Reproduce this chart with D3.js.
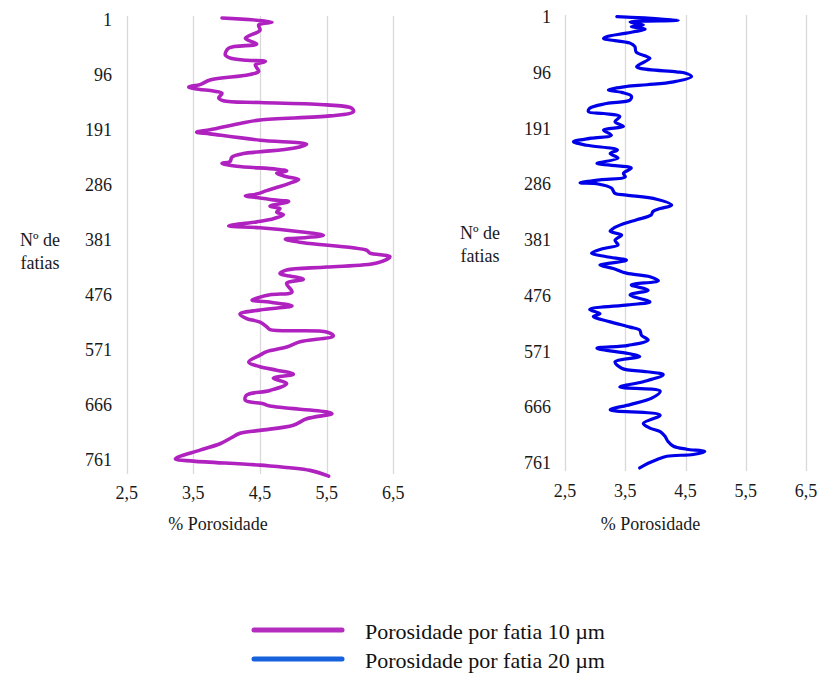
<!DOCTYPE html>
<html><head><meta charset="utf-8">
<script src="https://cdn.jsdelivr.net/npm/d3@7"></script>
</head><body style="margin:0">
<svg id="c" width="821" height="677" font-family="Liberation Serif" style="display:block;background:#fff"></svg>
<script>
// ---- data ----
const sliceTicks = [1, 96, 191, 286, 381, 476, 571, 666, 761];
const porTicks = [2.5, 3.5, 4.5, 5.5, 6.5];
const seriesNames = ["Porosidade por fatia 10 µm", "Porosidade por fatia 20 µm"];
const slices10 = [1,8,13,22,36,46,53,65,70,74,76,82,93,99,108,116,120,124,127,131,139,144,147,151,157,163,170,177,183,194,198,201,212,219,226,232,235,241,249,252,257,262,265,269,275,280,286,292,299,305,308,311,315,318,326,330,336,341,349,353,360,363,370,376,380,383,389,402,407,413,424,431,436,442,452,459,474,479,488,491,498,505,512,520,526,534,539,543,550,560,569,577,583,595,603,609,616,623,632,644,652,661,667,671,681,684,693,704,713,718,727,736,747,762,766,773,782,792];
const poro10 = [3.93,4.68,4.48,4.5,4.28,4.45,4.03,3.98,4.05,4.3,4.58,4.43,4.48,4.33,3.75,3.6,3.43,3.58,3.8,3.93,3.88,3.95,4.5,5.5,5.88,5.9,5.55,4.5,4.2,3.75,3.55,3.75,4.5,5.2,5.0,4.5,4.25,4.08,4.05,3.93,4.15,4.75,4.9,4.75,4.9,5.08,4.95,4.8,4.6,4.45,4.28,4.45,4.7,4.93,4.65,4.8,4.75,4.85,4.65,4.45,4.03,4.5,5.1,5.45,5.2,4.88,5.15,6.1,6.15,6.45,6.25,5.5,4.9,4.8,5.15,4.9,4.98,4.65,4.38,4.6,4.98,4.5,4.2,4.3,4.5,4.6,4.65,5.5,5.6,5.1,4.9,4.6,4.5,4.33,4.5,4.75,5.0,4.7,4.9,4.65,4.3,4.28,4.55,4.65,5.5,5.58,5.2,5.0,4.5,4.2,4.05,3.9,3.6,3.23,3.5,4.5,5.25,5.53];
const slices20 = [1,7,10,15,18,22,29,35,38,46,52,61,69,72,86,89,95,97,103,112,117,120,126,130,136,143,149,157,163,166,171,180,188,194,203,208,214,220,228,234,242,251,254,259,268,274,279,284,286,293,302,305,312,322,328,333,339,347,354,362,367,373,382,390,396,404,410,416,421,424,430,438,444,451,458,467,475,487,492,500,507,512,521,530,535,544,552,561,566,575,580,589,600,606,611,623,632,639,651,662,671,680,694,702,708,716,725,733,738,742,747,750,756,762,770];
const poro20 = [3.36,4.38,3.58,3.8,3.6,3.83,3.52,3.19,3.14,3.58,3.66,3.68,3.86,3.91,3.69,3.75,4.35,4.49,4.6,4.3,3.86,3.52,3.22,3.44,3.6,3.58,3.19,2.91,2.89,3.14,3.41,3.33,3.47,3.14,3.27,2.94,2.64,2.86,3.37,3.25,3.38,3.03,3.25,3.6,3.47,3.5,3.08,2.75,3.05,3.27,3.33,3.52,4.02,4.27,4.08,3.96,3.93,3.69,3.47,3.3,3.25,3.44,3.33,3.38,3.14,2.94,3.19,3.52,3.25,3.08,3.3,3.52,3.91,4.05,3.6,3.88,3.58,3.91,3.55,2.91,3.08,2.97,3.25,3.58,3.74,3.77,3.88,3.55,3.03,3.55,3.74,3.33,3.44,3.86,4.13,3.8,3.41,4.08,3.94,3.58,3.25,4.08,3.8,3.91,4.08,4.16,4.21,4.3,4.52,4.82,4.63,4.19,4.02,3.88,3.74];
const colors = ["#b022bf", "#0000e8"];
const legendColors = ["#b52dbf", "#1661dc"];

const svg = d3.select("#c");

function txt(sel, size){ return sel.attr("font-family", "Liberation Serif").attr("font-size", size).attr("fill", "#1a1a1a"); }

function panel(cfg){
  const x = d3.scaleLinear().domain([2.5, 6.5]).range([cfg.x0, cfg.x1]);
  const y = d3.scaleLinear().domain([1, 761]).range([cfg.y0, cfg.y1]);
  const g = svg.append("g");
  g.selectAll("line.grid").data(porTicks).join("line")
    .attr("x1", d => Math.round(x(d)) + 0.5).attr("x2", d => Math.round(x(d)) + 0.5)
    .attr("y1", cfg.gTop).attr("y2", cfg.gBot)
    .attr("stroke", "#d9d9d9").attr("stroke-width", 1.3);
  txt(g.selectAll("text.xt").data(porTicks).join("text"), 18)
    .attr("x", d => x(d)).attr("y", cfg.xLabY + 6)
    .attr("text-anchor", "middle").text(d => String(d).replace(".", ","));
  txt(g.selectAll("text.yt").data(sliceTicks).join("text"), 18)
    .attr("x", cfg.yLabX).attr("y", d => y(d) + cfg.yLabOff + 6)
    .attr("text-anchor", "end").text(d => d);
  txt(g.append("text"), 18).attr("x", (x(2.5) + x(6.5)) / 2 + cfg.tOff).attr("y", 530)
    .attr("text-anchor", "middle").text("% Porosidade");
  txt(g.append("text"), 18).attr("x", cfg.ytX).attr("y", cfg.ytY + 6)
    .attr("text-anchor", "middle").text("Nº de");
  txt(g.append("text"), 18).attr("x", cfg.ytX).attr("y", cfg.ytY + 29)
    .attr("text-anchor", "middle").text("fatias");
  const pts = cfg.s.map((s, i) => [s, cfg.v[i]]);
  g.append("path").datum(pts)
    .attr("fill", "none").attr("stroke", cfg.color).attr("stroke-width", cfg.sw)
    .attr("stroke-linejoin", "round").attr("stroke-linecap", "round")
    .attr("d", d3.line().x(d => x(d[1])).y(d => y(d[0])).curve(d3.curveCatmullRom.alpha(0.5)));
}

panel({x0:126.7, x1:393.3, y0:18, y1:458.2, gTop:16, gBot:474, xLabY:493, yLabX:112, yLabOff:2,
       ytX:40, ytY:240, tOff:-42, s:slices10, v:poro10, color:colors[0], sw:3.6});
panel({x0:565, x1:806, y0:16.7, y1:462.7, gTop:15, gBot:471, xLabY:491, yLabX:551, yLabOff:0.5,
       ytX:480, ytY:233, tOff:-35, s:slices20, v:poro20, color:colors[1], sw:3.2});

const lg = svg.append("g");
seriesNames.forEach((n, i) => {
  const yy = 630 + i * 29;
  lg.append("line").attr("x1", 254).attr("x2", 342).attr("y1", yy).attr("y2", yy)
    .attr("stroke", legendColors[i]).attr("stroke-width", 5).attr("stroke-linecap", "round");
  txt(lg.append("text"), 22).attr("x", 365).attr("y", yy + 9).attr("fill", "#111").text(n);
});
</script>
</body></html>
